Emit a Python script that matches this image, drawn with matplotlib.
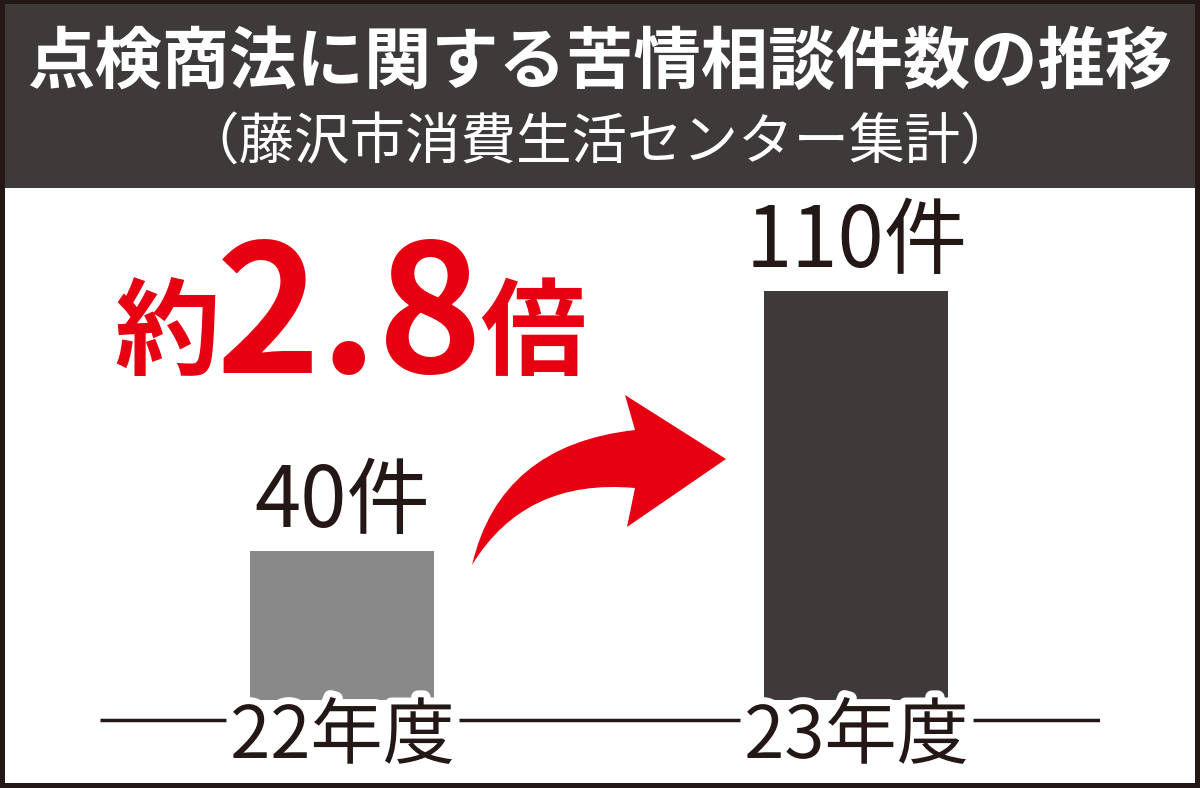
import matplotlib.pyplot as plt
import matplotlib.patheffects as pe
from matplotlib.patches import Rectangle, PathPatch
from matplotlib.path import Path

plt.rcParams['font.family'] = ['Noto Sans CJK JP', 'DejaVu Sans']

# データ
years = ['22年度', '23年度']
counts = [40, 110]
bar_colors = ['#898989', '#3e3a39']
title = '点検商法に関する苦情相談件数の推移'
subtitle = '（藤沢市消費生活センター集計）'
ratio_label = ['約', '2.8', '倍']

W, H = 1200, 788
fig = plt.figure(figsize=(W / 100, H / 100), dpi=100)
fig.patch.set_facecolor('#231815')


def px(x, y):
    # ピクセル座標 -> figure 座標
    return x / W, 1 - y / H


# 背景（白い枠と見出し帯）
fig.patches.append(Rectangle(px(5, 783), 1190 / W, 595 / H, transform=fig.transFigure,
                             facecolor='white', edgecolor='none', zorder=-2))
fig.patches.append(Rectangle(px(5, 188), 1190 / W, 184 / H, transform=fig.transFigure,
                             facecolor='#3e3a39', edgecolor='none', zorder=-2))

fig.text(*px(600, 64), title, color='white', fontsize=48.5, fontweight='bold',
         ha='center', va='center')
fig.text(*px(600, 143), subtitle, color='white', fontsize=40,
         ha='center', va='center')

# グラフ本体
x0, x1 = 100, 1100          # 軸の左右（px）
c0, c1 = 342.5, 856.5       # 棒の中心（px）
unit_x = c1 - c0
y_top, y_bot = 190, 780
base_px, top_px = 700, 291
unit_y = (base_px - top_px) / counts[1]

ax = fig.add_axes([x0 / W, 1 - y_bot / H, (x1 - x0) / W, (y_bot - y_top) / H])
ax.set_xlim(-(c0 - x0) / unit_x, 1 + (x1 - c1) / unit_x)
ax.set_ylim(-(y_bot - base_px) / unit_y, counts[1] + (top_px - y_top) / unit_y)
ax.axis('off')
ax.patch.set_alpha(0)

xs = range(len(years))
ax.bar(xs, counts, width=184 / unit_x, color=bar_colors, zorder=2)

base_y = -(720 - base_px) / unit_y

halo = [pe.withStroke(linewidth=10, foreground='white')]
year_texts = []
for i, (yr, c) in enumerate(zip(years, counts)):
    t = ax.text(i, base_y - 4.7, yr, fontsize=52, color='#231815', ha='center',
                va='center', zorder=4, path_effects=halo)
    year_texts.append(t)
    ax.text(i, c + 6.5, f'{c}件', fontsize=60, color='#231815', ha='center',
            va='baseline', zorder=4)

# 年度ラベルのところで途切れる基準線
fig.canvas.draw()
r = fig.canvas.get_renderer()
inv = ax.transData.inverted()
edges = [ax.get_xlim()[0]]
for t in year_texts:
    bb = t.get_window_extent(r)
    edges.append(inv.transform((bb.x0 - 4, 0))[0])
    edges.append(inv.transform((bb.x1 + 4, 0))[0])
edges.append(ax.get_xlim()[1])
for a, b in zip(edges[::2], edges[1::2]):
    ax.plot([a, b], [base_y, base_y], color='#231815', lw=2.5, zorder=3,
            solid_capstyle='butt')

# 約2.8倍
red = '#e60012'
fig.text(*px(167, 367), ratio_label[0], fontsize=76, fontweight='bold', color=red,
         ha='center', va='baseline')
fig.text(*px(350, 373), ratio_label[1], fontsize=128, fontweight='bold', color=red,
         ha='center', va='baseline')
fig.text(*px(533, 367), ratio_label[2], fontsize=76, fontweight='bold', color=red,
         ha='center', va='baseline')

# 曲がった矢印
pts = [(472, 565), (500, 445), (635, 430), (625, 395), (726, 459),
       (627, 527), (635, 488), (525, 478), (472, 565)]
codes = [Path.MOVETO, Path.CURVE3, Path.CURVE3, Path.LINETO, Path.LINETO,
         Path.LINETO, Path.LINETO, Path.CURVE3, Path.CURVE3]
arrow = Path([px(x, y) for x, y in pts], codes)
fig.patches.append(PathPatch(arrow, transform=fig.transFigure, facecolor=red,
                             edgecolor='none', zorder=5))

fig.savefig('out.png', dpi=100, facecolor=fig.get_facecolor())
